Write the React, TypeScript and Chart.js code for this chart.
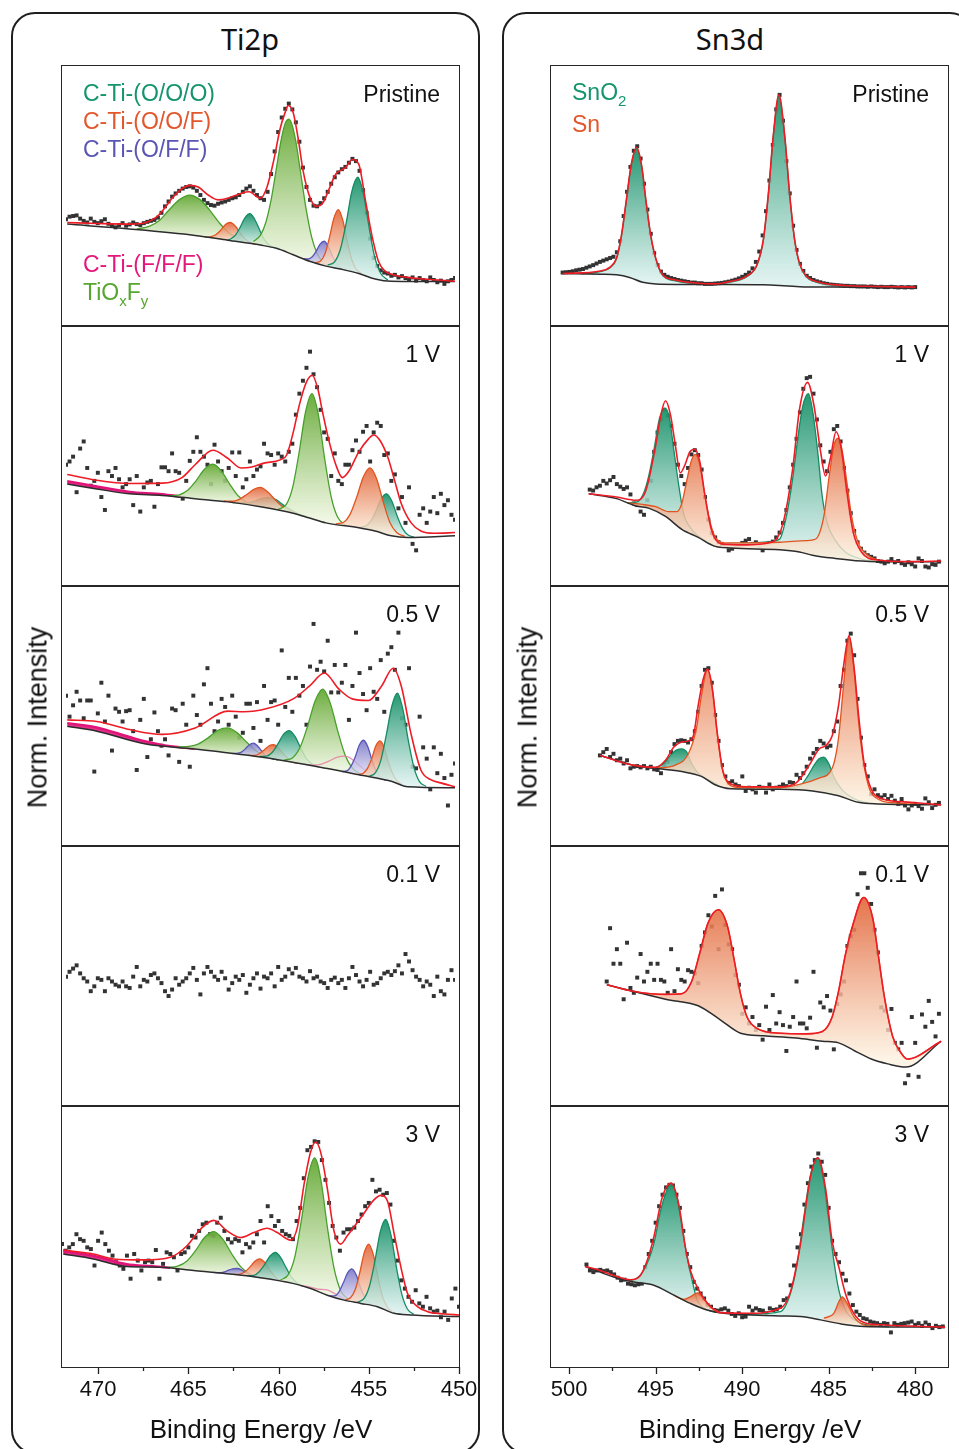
import React, { useEffect, useRef } from 'react';
import { Chart, registerables } from 'chart.js';
Chart.register(...registerables);

type P = [number, number];
type Kind = 'teal' | 'orange' | 'purple' | 'green' | 'magenta' | 'pink';
type Comp = { kind: Kind; pts: P[] };
type Sub = { start: number; scatter: number[]; env?: P[]; bg?: P[]; comps: Comp[] };

const STEP = 0.2;
const TI_MIN = 450, TI_MAX = 472;
const SN_MIN = 478.1, SN_MAX = 501.05;
const TI_TICKS = [450, 452.5, 455, 457.5, 460, 462.5, 465, 467.5, 470];
const TI_LABELS = [450, 455, 460, 465, 470];
const SN_TICKS = [480, 482.5, 485, 487.5, 490, 492.5, 495, 497.5, 500];
const SN_LABELS = [480, 485, 490, 495, 500];
const STATES = ['Pristine', '1 V', '0.5 V', '0.1 V', '3 V'];

// ---------------- Ti2p ----------------
const tiPristineScatter = [318,326,328,330,320,313,308,320,310,306,312,318,304,298,293,300,306,298,302,308,303,300,306,310,313,316,323,338,358,373,388,398,406,413,418,420,416,406,393,378,368,362,360,366,370,373,378,383,386,393,403,413,420,406,393,383,378,403,458,528,588,633,660,676,658,618,558,478,418,378,360,358,368,383,403,428,448,463,473,480,493,505,498,468,408,338,258,198,173,160,153,150,143,146,138,142,136,130,138,128,136,130,126,138,130,123,128,118,126,130,136];
const tiPristineEnv: P[] = [[471.93,308],[470.26,305],[468.41,303],[467.48,308],[466.93,323],[466.56,343],[466.0,383],[465.44,413],[464.98,423],[464.52,418],[463.96,393],[463.41,378],[462.85,383],[462.11,398],[461.65,403],[461.0,383],[460.63,418],[460.26,498],[459.89,598],[459.61,648],[459.43,670],[459.15,648],[458.87,568],[458.59,468],[458.22,388],[457.85,358],[457.48,368],[457.11,413],[456.74,458],[456.19,478],[455.81,503],[455.44,488],[455.07,378],[454.7,268],[454.33,188],[453.96,158],[453.59,148],[452.67,138],[451.74,133],[450.0,126]];
const tiPristineBg: P[] = [[471.93,303],[468.41,288],[464.7,268],[462.85,253],[461.0,238],[460.1,228],[459.15,208],[458.22,188],[457.3,173],[456.4,163],[455.44,150],[454.52,133],[453.6,126],[450.0,125]];
const tiPristineGreen1: P[] = [[468.0,288],[467.3,296],[466.7,315],[466.2,345],[465.6,378],[465.0,393],[464.4,378],[463.9,348],[463.3,305],[462.7,272],[462.0,250]];
const tiPristineOrange1: P[] = [[464.13,262],[463.8,264],[463.53,270],[463.25,284],[462.98,302],[462.7,308],[462.43,297],[462.15,275],[461.88,257],[461.6,247],[461.27,240]];
const tiPristineTeal1: P[] = [[462.9,253],[462.7,257],[462.43,268],[462.15,293],[461.88,322],[461.6,335],[461.33,318],[461.05,285],[460.78,255],[460.5,238],[460.17,229]];
const tiPristineGreen2: P[] = [[461.4,249],[461.0,269],[460.7,308],[460.4,378],[460.2,442],[460.0,510],[459.8,572],[459.6,615],[459.4,628],[459.2,608],[459.0,558],[458.8,488],[458.6,413],[458.4,343],[458.1,261],[457.8,212],[457.4,182],[457.0,170]];
const tiPristinePurple: P[] = [[458.57,196],[458.3,195],[458.07,202],[457.85,219],[457.63,241],[457.4,250],[457.17,234],[456.95,207],[456.73,183],[456.5,169],[456.23,161]];
const tiPristineOrange2: P[] = [[457.9,184],[457.6,189],[457.35,212],[457.1,262],[456.85,321],[456.6,348],[456.35,316],[456.1,251],[455.85,195],[455.6,164],[455.3,151]];
const tiPristineTeal2: P[] = [[457.2,176],[456.8,187],[456.48,226],[456.15,308],[455.83,405],[455.5,448],[455.18,397],[454.85,290],[454.53,198],[454.2,150],[453.8,130]];

const ti1VScatter = [363,373,388,278,413,435,353,298,313,338,263,223,343,328,353,318,293,303,318,238,328,218,293,308,313,233,303,355,355,343,398,343,338,258,313,375,403,448,403,388,363,303,425,373,343,313,353,401,328,401,293,318,373,328,348,358,428,398,393,363,398,388,373,403,428,518,583,623,663,713,643,603,533,463,443,328,398,313,303,363,363,408,438,403,465,483,373,463,493,483,393,398,313,333,228,263,183,293,118,98,208,228,183,218,263,213,273,238,253,208,193];
const ti1VEnv: P[] = [[471.93,333],[470.26,315],[468.41,305],[466.56,306],[465.44,323],[464.7,363],[463.69,408],[462.85,383],[462.11,353],[461.56,355],[460.81,368],[459.89,378],[459.52,393],[459.15,463],[458.78,553],[458.41,618],[458.07,640],[457.76,598],[457.48,523],[457.11,433],[456.74,363],[456.37,323],[456.0,343],[455.44,403],[454.89,443],[454.61,455],[454.24,438],[453.78,383],[453.41,313],[453.04,243],[452.48,183],[451.93,158],[451.19,151],[450.0,153]];
const ti1VBg: P[] = [[471.93,303],[470.26,288],[468.41,273],[466.56,268],[464.7,258],[462.85,248],[461.0,233],[459.15,213],[458.22,198],[457.3,183],[455.44,168],[454.52,158],[453.6,143],[452.67,138],[450.0,143]];
const ti1VMagenta: P[] = [[471.93,312],[470.26,296],[468.41,279],[466.56,272],[465.5,264]];
const ti1VGreen1: P[] = [[466.16,267],[465.59,270],[465.12,284],[464.64,314],[464.17,349],[463.69,365],[463.22,344],[462.74,303],[462.27,267],[461.79,247],[461.22,237]];
const ti1VOrange1: P[] = [[463.08,251],[462.6,250],[462.2,256],[461.8,270],[461.4,286],[461.0,293],[460.6,279],[460.2,256],[459.8,235],[459.4,222],[458.92,210]];
const ti1VTeal1: P[] = [[462.58,246],[462.1,245],[461.7,246],[461.3,251],[460.9,259],[460.5,262],[460.1,254],[459.7,238],[459.3,224],[458.9,212],[458.42,203]];
const ti1VGreen2: P[] = [[460.0,225],[459.54,240],[459.18,293],[458.82,400],[458.45,527],[458.09,583],[457.73,518],[457.37,381],[457.0,263],[456.64,201],[456.2,176]];
const ti1VOrange2: P[] = [[456.75,180],[456.3,185],[455.93,210],[455.55,264],[455.18,326],[454.8,353],[454.43,319],[454.05,246],[453.68,184],[453.3,153],[452.85,141]];
const ti1VTeal2: P[] = [[455.43,169],[455.07,173],[454.77,188],[454.47,220],[454.17,258],[453.87,273],[453.57,250],[453.27,204],[452.97,166],[452.67,146],[452.31,139]];

const ti05Scatter = [453,388,423,465,438,383,438,438,218,398,493,373,453,283,413,403,373,405,408,343,223,378,443,263,318,401,343,298,318,268,413,408,248,428,363,233,453,393,363,488,538,428,343,373,443,418,363,453,388,323,338,428,428,353,433,313,483,378,433,438,363,593,418,508,403,508,453,483,363,543,675,533,558,528,623,463,548,463,493,548,378,483,648,523,458,408,538,465,443,563,403,583,603,533,648,383,363,538,233,228,388,293,258,163,293,213,273,198,113,208,243];
const ti05Env: P[] = [[471.93,378],[470.26,373],[468.41,348],[466.56,333],[464.7,353],[462.85,405],[461.93,403],[460.63,413],[459.15,443],[458.22,483],[457.39,523],[456.56,473],[455.81,443],[454.89,438],[454.15,483],[453.5,538],[453.04,483],[452.48,333],[451.93,223],[451.37,193],[450.81,183],[450.0,171]];
const ti05Bg: P[] = [[471.93,358],[470.26,343],[467.48,303],[464.7,288],[461.0,263],[457.3,228],[455.44,208],[453.6,188],[452.67,171],[450.0,168]];
const ti05Magenta: P[] = [[471.93,368],[470.26,355],[468.41,325],[467.48,311],[466.5,300],[465.5,293],[464.7,289]];
const ti05Green1: P[] = [[465.7,294],[465.05,296],[464.5,304],[463.95,323],[463.4,346],[462.85,353],[462.3,337],[461.75,307],[461.2,280],[460.65,264],[460.0,253]];
const ti05Purple1: P[] = [[462.57,274],[462.3,275],[462.08,278],[461.85,289],[461.63,301],[461.4,306],[461.18,298],[460.95,283],[460.73,268],[460.5,261],[460.23,256]];
const ti05Orange1: P[] = [[461.7,268],[461.36,268],[461.08,273],[460.81,284],[460.53,297],[460.26,301],[459.98,291],[459.71,273],[459.43,258],[459.16,248],[458.83,243]];
const ti05Teal1: P[] = [[461.06,265],[460.67,266],[460.34,277],[460.02,303],[459.7,333],[459.37,345],[459.05,327],[458.72,290],[458.4,258],[458.07,241],[457.68,233]];
const ti05Green2: P[] = [[459.69,253],[459.18,261],[458.76,293],[458.33,360],[457.9,438],[457.48,473],[457.05,429],[456.63,343],[456.2,267],[455.78,227],[455.27,208]];
const ti05Pink: P[] = [[458.54,240],[458.0,238],[457.55,241],[457.1,251],[456.65,263],[456.2,266],[455.75,253],[455.3,232],[454.85,212],[454.4,200],[453.86,191]];
const ti05Purple2: P[] = [[456.41,218],[456.12,220],[455.88,235],[455.64,264],[455.41,300],[455.17,315],[454.93,295],[454.7,254],[454.46,220],[454.22,200],[453.93,191]];
const ti05Orange2: P[] = [[455.47,209],[455.19,213],[454.95,228],[454.71,258],[454.48,297],[454.24,313],[454.0,292],[453.77,248],[453.53,212],[453.29,190],[453.0,178]];
const ti05Teal2: P[] = [[454.89,203],[454.51,214],[454.2,252],[453.89,330],[453.57,421],[453.26,461],[452.95,411],[452.63,311],[452.32,230],[452.01,187],[451.63,172]];

const ti01Scatter = [388,403,413,423,398,383,373,343,358,383,378,343,383,373,363,358,373,358,353,388,418,358,378,373,393,398,383,368,343,328,348,383,363,373,383,398,415,378,333,398,418,403,388,378,403,383,348,368,388,378,393,338,363,383,398,351,388,383,398,358,418,378,388,411,398,415,388,383,373,405,383,388,373,368,353,378,385,368,378,353,383,418,393,373,358,378,403,363,368,383,398,403,393,405,423,398,458,435,408,388,378,358,373,363,328,388,343,333,378,408,378];

const ti3VScatter = [373,353,363,373,403,388,383,363,358,308,383,408,373,353,338,318,308,298,338,268,343,323,293,318,323,318,355,268,313,348,343,333,293,343,348,363,398,393,413,433,438,403,398,438,453,413,388,378,388,383,348,373,363,378,403,443,378,488,458,428,443,413,403,398,388,443,483,573,658,668,685,683,628,568,498,428,393,353,408,418,418,423,443,463,488,498,568,533,538,523,528,493,383,323,263,238,213,198,233,193,183,213,178,168,171,151,168,143,208,238,183];
const ti3VEnv: P[] = [[471.93,355],[470.26,343],[469.15,328],[467.48,325],[466.0,333],[465.07,368],[464.33,418],[463.59,445],[462.85,413],[462.11,393],[461.37,408],[460.63,421],[460.07,408],[459.33,385],[458.96,423],[458.59,553],[458.22,653],[457.94,683],[457.67,653],[457.3,543],[456.93,413],[456.56,373],[456.19,398],[455.44,453],[454.7,508],[454.33,521],[453.96,503],[453.59,403],[453.22,303],[452.85,223],[452.3,183],[451.74,168],[450.81,161],[450.0,158]];
const ti3VBg: P[] = [[471.93,343],[470.26,328],[468.41,305],[466.56,303],[464.7,293],[462.85,283],[461.0,271],[459.15,253],[458.22,238],[457.3,218],[456.37,203],[455.44,193],[454.52,183],[453.6,163],[452.67,158],[450.0,153]];
const ti3VMagenta: P[] = [[471.93,352],[470.26,338],[468.41,312],[467.0,306],[466.0,301]];
const ti3VGreen1: P[] = [[466.2,302],[465.59,306],[465.09,321],[464.59,354],[464.09,394],[463.59,411],[463.09,388],[462.59,343],[462.09,304],[461.59,283],[461.0,272]];
const ti3VPurple1: P[] = [[463.6,287],[463.3,286],[463.05,288],[462.8,293],[462.55,298],[462.3,299],[462.05,295],[461.8,286],[461.55,279],[461.3,274],[461.0,271]];
const ti3VOrange1: P[] = [[462.47,281],[462.14,282],[461.86,289],[461.59,303],[461.31,321],[461.04,328],[460.76,317],[460.49,295],[460.21,275],[459.94,264],[459.61,258]];
const ti3VTeal1: P[] = [[461.73,277],[461.37,278],[461.07,289],[460.77,311],[460.47,337],[460.17,348],[459.87,331],[459.57,300],[459.27,272],[458.97,255],[458.61,245]];
const ti3VGreen2: P[] = [[459.89,264],[459.45,281],[459.09,336],[458.73,447],[458.36,578],[458.0,635],[457.64,563],[457.28,419],[456.91,296],[456.55,231],[456.1,204]];
const ti3VPink: P[] = [[458.8,247],[458.3,243],[457.8,236],[457.3,234],[456.8,220],[456.3,205]];
const ti3VPurple2: P[] = [[457.18,216],[456.89,216],[456.65,228],[456.42,254],[456.18,285],[455.94,298],[455.7,280],[455.47,243],[455.23,212],[454.99,194],[454.7,186]];
const ti3VOrange2: P[] = [[456.3,204],[456.0,211],[455.75,235],[455.5,286],[455.25,347],[455.0,373],[454.75,341],[454.5,275],[454.25,216],[454.0,184],[453.7,167]];
const ti3VTeal2: P[] = [[455.62,197],[455.26,208],[454.96,246],[454.66,322],[454.36,411],[454.06,448],[453.76,398],[453.46,300],[453.16,219],[452.86,176],[452.5,160]];

// ---------------- Sn3d ----------------
const snPristineScatter = [153,154,155,157,160,162,164,168,172,176,181,186,190,194,198,202,216,250,328,403,480,530,544,506,428,348,273,213,176,156,146,140,136,133,130,128,126,124,122,122,120,120,118,118,118,119,120,121,123,125,128,131,135,140,146,153,166,186,218,268,343,438,548,658,703,623,498,398,298,223,180,158,143,136,130,126,123,120,118,116,115,114,113,112,112,111,111,110,110,110,109,110,109,108,109,108,108,109,108,107,108,107,108,107,108];
const snPristineEnv: P[] = [[500.6,150],[498.38,158],[497.8,170],[497.42,198],[497.13,268],[496.84,378],[496.55,488],[496.23,540],[495.92,478],[495.69,378],[495.4,268],[495.11,198],[494.72,148],[493.95,130],[492.6,120],[491.64,118],[490.67,126],[489.71,143],[489.13,178],[488.75,258],[488.46,398],[488.17,578],[487.84,703],[487.5,578],[487.21,398],[486.92,258],[486.63,183],[486.24,143],[485.47,123],[483.93,113],[482.0,110],[479.79,108]];
const snPristineBg: P[] = [[500.6,150],[498.38,148],[497.42,146],[496.65,138],[495.88,123],[495.11,118],[491.64,116],[488.75,115],[487.79,113],[486.82,110],[485.86,108],[479.79,108]];
const snPristineSnO2a: P[] = [[499.5,149],[498.38,156],[497.8,168],[497.42,196],[497.13,266],[496.84,376],[496.55,486],[496.23,538],[495.92,476],[495.69,376],[495.4,266],[495.11,196],[494.72,146],[493.95,127],[492.6,118],[491.64,116]];
const snPristineSnO2b: P[] = [[492.6,117],[491.64,117],[490.67,124],[489.71,141],[489.13,176],[488.75,256],[488.46,396],[488.17,576],[487.84,701],[487.5,576],[487.21,396],[486.92,256],[486.63,181],[486.24,141],[485.47,121],[483.93,112],[482.0,109],[480.5,108]];

const sn1VScatter = [286,283,293,298,313,305,315,325,303,295,288,293,271,243,238,218,208,253,313,403,463,503,533,515,483,428,363,328,303,353,395,408,393,348,263,193,151,138,123,118,113,98,103,111,115,121,128,133,118,123,111,98,118,121,125,138,153,183,223,293,363,443,525,598,631,635,583,503,423,373,343,403,473,483,435,353,283,213,158,123,103,91,83,78,73,65,63,58,63,71,61,65,58,53,61,55,48,73,65,48,45,55,53,63];
const sn1VEnv: P[] = [[499.06,273],[497.42,263],[496.26,253],[495.69,283],[495.11,423],[494.82,513],[494.53,561],[494.24,518],[493.95,423],[493.66,338],[493.38,363],[493.09,403],[492.8,411],[492.51,373],[492.22,273],[491.83,163],[491.25,118],[489.71,115],[488.17,125],[487.59,183],[487.02,353],[486.63,533],[486.15,618],[485.76,543],[485.38,403],[485.09,328],[484.8,383],[484.47,465],[484.16,413],[483.84,283],[483.45,153],[482.97,93],[482.0,68],[480.08,63],[478.27,65]];
const sn1VBg: P[] = [[499.06,273],[497.42,258],[496.26,235],[495.49,228],[494.53,203],[493.57,163],[492.6,138],[491.64,111],[490.68,105],[487.79,100],[486.63,93],[485.86,83],[484.51,73],[482.97,65],[482.0,63],[478.27,63]];
const sn1VSnO2a: P[] = [[496.78,245],[496.2,248],[495.8,278],[495.5,333],[495.2,413],[494.9,503],[494.57,538],[494.3,508],[494.05,413],[493.76,303],[493.47,213],[492.99,163],[492.22,128],[491.64,111]];
const sn1VSnO2b: P[] = [[491.06,119],[489.71,120],[488.5,124],[487.79,133],[487.4,203],[487.02,323],[486.73,443],[486.44,543],[486.1,583],[485.86,533],[485.57,413],[485.28,263],[484.99,183],[484.5,128],[483.93,93],[482.97,71],[482.0,64]];
const sn1VSn: P[] = [[496.78,245],[495.88,240],[495.11,233],[494.34,218],[493.86,218],[493.57,243],[493.28,313],[492.99,378],[492.76,395],[492.51,363],[492.22,273],[491.93,193],[491.64,143],[491.06,121],[489.71,121],[487.79,123],[486.24,128],[485.67,133],[485.19,203],[484.86,333],[484.59,423],[484.36,445],[484.13,413],[483.84,313],[483.55,203],[483.17,123],[482.59,83],[482.0,68]];

const sn05Scatter = [268,278,288,263,273,253,258,243,253,228,233,235,231,235,228,233,225,223,213,238,248,278,303,313,315,313,308,318,343,403,483,533,538,493,393,313,238,203,183,188,178,173,203,158,168,163,153,171,168,153,178,163,168,171,178,173,185,183,208,198,213,233,258,275,288,313,305,293,298,343,373,483,533,623,645,578,443,323,238,203,148,163,145,138,145,133,143,128,118,133,113,101,113,118,111,103,135,123,105,115,121];
const sn05Env: P[] = [[498.38,268],[496.46,238],[495.11,231],[494.53,253],[494.05,293],[493.66,308],[493.18,313],[492.89,328],[492.6,423],[492.31,503],[492.06,535],[491.79,483],[491.49,343],[491.16,223],[490.78,183],[489.72,171],[487.79,171],[486.82,183],[486.05,238],[485.47,288],[485.09,298],[484.7,328],[484.32,423],[484.03,543],[483.7,638],[483.39,533],[483.12,383],[482.81,243],[482.39,163],[481.81,135],[480.08,123],[478.27,115]];
const sn05Bg: P[] = [[498.38,268],[496.46,238],[495.11,228],[493.57,218],[492.41,203],[491.64,178],[490.68,165],[487.79,163],[485.86,158],[484.32,143],[483.16,123],[482.0,118],[478.27,115]];
const sn05SnO2a: P[] = [[495.11,231],[494.63,243],[494.24,268],[493.86,285],[493.57,288],[493.28,278],[492.99,243],[492.6,213],[492.03,193],[491.45,177]];
const sn05SnO2b: P[] = [[487.5,168],[486.63,173],[486.15,203],[485.76,238],[485.47,258],[485.19,263],[484.9,243],[484.61,203],[484.13,163],[483.36,133],[482.59,121]];
const sn05Sn: P[] = [[495.11,228],[493.95,238],[493.18,273],[492.7,353],[492.41,453],[492.06,533],[491.74,463],[491.45,323],[491.16,223],[490.78,178],[490.1,168],[487.79,168],[486.63,178],[485.47,198],[484.7,228],[484.32,323],[484.03,483],[483.7,638],[483.39,523],[483.16,383],[482.87,253],[482.49,163],[482.0,133],[481.04,121],[479.5,117]];

const sn01Scatter = [373,538,428,473,428,318,493,353,338,385,458,373,403,428,378,428,378,373,338,473,343,411,378,373,408,403,398,368,483,525,578,543,638,473,658,548,488,473,393,363,273,293,243,263,223,238,193,295,223,331,243,278,238,158,233,263,373,243,243,228,261,403,168,308,293,328,283,163,303,333,373,483,513,533,643,708,708,663,613,533,463,293,283,223,288,183,163,183,58,83,263,183,78,271,233,313,248,203,273];
const sn01Env: P[] = [[497.99,363],[496.46,343],[494.53,333],[493.57,335],[492.99,373],[492.5,463],[492.03,553],[491.41,595],[490.87,543],[490.49,443],[490.1,333],[489.72,263],[489.14,228],[487.79,213],[486.24,211],[485.28,218],[484.7,263],[484.32,343],[483.93,453],[483.45,553],[482.84,633],[482.3,568],[482.0,463],[481.61,323],[481.13,203],[480.65,153],[480.27,133],[478.27,188]];
const sn01Bg: P[] = [[497.99,363],[496.46,343],[494.53,318],[492.6,298],[491.26,253],[490.1,213],[488.75,205],[486.82,198],[485.28,188],[484.32,183],[483.36,158],[482.39,133],[481.42,118],[480.36,108],[478.27,188]];
const sn01Sn: P[] = sn01Env;

const sn3VScatter = [311,293,288,293,295,291,293,288,281,271,263,265,253,251,248,251,253,303,343,383,438,488,523,545,553,551,523,483,413,343,303,258,238,223,208,188,183,173,171,175,178,171,161,155,163,151,153,183,171,178,173,171,163,178,173,175,183,203,208,248,308,363,403,493,558,608,628,648,623,583,483,383,343,318,283,263,223,188,168,158,148,145,138,135,133,128,133,131,105,133,128,131,133,135,138,128,133,125,135,128,118,125,121,123];
const sn3VEnv: P[] = [[499.06,305],[498.2,293],[497.42,278],[496.46,265],[495.88,278],[495.49,323],[495.11,393],[494.63,513],[494.11,558],[493.66,493],[493.28,363],[492.99,293],[492.6,243],[492.22,208],[491.83,183],[491.26,165],[489.71,163],[487.79,178],[487.21,228],[486.63,373],[486.05,578],[485.62,635],[485.18,543],[484.8,383],[484.41,303],[484.03,223],[483.55,163],[482.97,135],[482.0,128],[478.27,121]];
const sn3VBg: P[] = [[499.06,305],[497.42,273],[496.26,258],[495.11,248],[493.95,218],[492.99,193],[492.03,173],[491.06,163],[487.79,155],[486.63,153],[485.47,143],[484.32,131],[482.97,123],[478.27,121]];
const sn3VSnO2a: P[] = [[497.42,274],[496.46,263],[495.7,293],[495.11,373],[494.72,473],[494.38,533],[494.11,555],[493.76,513],[493.47,423],[493.18,333],[492.89,263],[492.6,203],[492.03,174],[491.26,164]];
const sn3VSna: P[] = [[493.95,218],[493.38,205],[492.99,213],[492.57,225],[492.22,208],[491.83,183],[491.26,165]];
const sn3VSnO2b: P[] = [[489.71,160],[487.79,168],[487.21,223],[486.82,313],[486.44,453],[486.05,583],[485.62,635],[485.28,563],[484.99,443],[484.7,323],[484.41,233],[484.03,173],[483.36,138],[482.39,125],[481.5,122]];
const sn3VSnb: P[] = [[485.28,148],[484.7,163],[484.41,198],[484.22,213],[483.93,193],[483.55,153],[482.97,128],[482.2,123]];

const TI_SUBS: Sub[] = [
  { start: 472, scatter: tiPristineScatter, env: tiPristineEnv, bg: tiPristineBg, comps: [
    { kind: 'green', pts: tiPristineGreen1 }, { kind: 'orange', pts: tiPristineOrange1 }, { kind: 'teal', pts: tiPristineTeal1 },
    { kind: 'green', pts: tiPristineGreen2 }, { kind: 'purple', pts: tiPristinePurple }, { kind: 'orange', pts: tiPristineOrange2 }, { kind: 'teal', pts: tiPristineTeal2 } ] },
  { start: 472, scatter: ti1VScatter, env: ti1VEnv, bg: ti1VBg, comps: [
    { kind: 'magenta', pts: ti1VMagenta }, { kind: 'green', pts: ti1VGreen1 }, { kind: 'teal', pts: ti1VTeal1 }, { kind: 'orange', pts: ti1VOrange1 },
    { kind: 'green', pts: ti1VGreen2 }, { kind: 'teal', pts: ti1VTeal2 }, { kind: 'orange', pts: ti1VOrange2 } ] },
  { start: 472, scatter: ti05Scatter, env: ti05Env, bg: ti05Bg, comps: [
    { kind: 'magenta', pts: ti05Magenta }, { kind: 'green', pts: ti05Green1 }, { kind: 'purple', pts: ti05Purple1 }, { kind: 'orange', pts: ti05Orange1 },
    { kind: 'teal', pts: ti05Teal1 }, { kind: 'green', pts: ti05Green2 }, { kind: 'pink', pts: ti05Pink }, { kind: 'purple', pts: ti05Purple2 },
    { kind: 'orange', pts: ti05Orange2 }, { kind: 'teal', pts: ti05Teal2 } ] },
  { start: 472, scatter: ti01Scatter, comps: [] },
  { start: 472, scatter: ti3VScatter, env: ti3VEnv, bg: ti3VBg, comps: [
    { kind: 'magenta', pts: ti3VMagenta }, { kind: 'green', pts: ti3VGreen1 }, { kind: 'purple', pts: ti3VPurple1 }, { kind: 'orange', pts: ti3VOrange1 },
    { kind: 'teal', pts: ti3VTeal1 }, { kind: 'green', pts: ti3VGreen2 }, { kind: 'pink', pts: ti3VPink }, { kind: 'purple', pts: ti3VPurple2 },
    { kind: 'orange', pts: ti3VOrange2 }, { kind: 'teal', pts: ti3VTeal2 } ] },
];

const SN_SUBS: Sub[] = [
  { start: 500.6, scatter: snPristineScatter, env: snPristineEnv, bg: snPristineBg, comps: [
    { kind: 'teal', pts: snPristineSnO2a }, { kind: 'teal', pts: snPristineSnO2b } ] },
  { start: 499.0, scatter: sn1VScatter, env: sn1VEnv, bg: sn1VBg, comps: [
    { kind: 'teal', pts: sn1VSnO2a }, { kind: 'teal', pts: sn1VSnO2b }, { kind: 'orange', pts: sn1VSn } ] },
  { start: 498.4, scatter: sn05Scatter, env: sn05Env, bg: sn05Bg, comps: [
    { kind: 'teal', pts: sn05SnO2a }, { kind: 'teal', pts: sn05SnO2b }, { kind: 'orange', pts: sn05Sn } ] },
  { start: 498.0, scatter: sn01Scatter, env: sn01Env, bg: sn01Bg, comps: [ { kind: 'orange', pts: sn01Sn } ] },
  { start: 499.0, scatter: sn3VScatter, env: sn3VEnv, bg: sn3VBg, comps: [
    { kind: 'teal', pts: sn3VSnO2a }, { kind: 'teal', pts: sn3VSnO2b }, { kind: 'orange', pts: sn3VSna }, { kind: 'orange', pts: sn3VSnb } ] },
];

// ---------------- styling ----------------
const LINE: Record<Kind, string> = {
  teal: '#158c63', orange: '#e2541f', purple: '#5a55b8', green: '#48a02c', magenta: '#e0157a', pink: 'rgba(232,120,160,0.8)',
};
const FILL: Record<Kind, [string, string]> = {
  teal: ['rgba(26,146,106,0.95)', 'rgba(222,242,240,0.8)'],
  orange: ['rgba(226,100,56,0.9)', 'rgba(253,241,222,0.78)'],
  purple: ['rgba(112,108,196,0.85)', 'rgba(232,230,246,0.7)'],
  green: ['rgba(100,168,52,0.95)', 'rgba(242,248,228,0.8)'],
  magenta: ['rgba(226,24,124,0.9)', 'rgba(226,24,124,0.9)'],
  pink: ['rgba(0,0,0,0)', 'rgba(0,0,0,0)'],
};
const SANS = '"Liberation Sans", Arial, sans-serif';
const Y_MAX = 780;

const PLOT_TOPS = [66, 326, 586, 846, 1106];
const PLOT_H = [260, 260, 260, 260, 261];
const PLOT_W = 397;
const AXIS_H = 82;

const tickPlugin = (ticks: number[], majors: number[]) => ({
  id: 'xpsTicks',
  afterDraw(chart: any) {
    const s = chart.scales.x;
    const b = chart.chartArea.bottom;
    const c = chart.ctx;
    c.save();
    c.strokeStyle = '#222';
    c.lineWidth = 1.3;
    ticks.forEach((v) => {
      const x = Math.round(s.getPixelForValue(v)) + 0.5;
      const len = majors.includes(v) ? 7 : 4;
      c.beginPath();
      c.moveTo(x, b);
      c.lineTo(x, b + len);
      c.stroke();
    });
    c.restore();
  },
});

function SubChart(props: { sub: Sub; xmin: number; xmax: number; ticks: number[]; majors: number[]; left: number; top: number; h: number; axis: boolean }) {
  const { sub, xmin, xmax, ticks, majors, left, top, h, axis } = props;
  const ref = useRef<HTMLCanvasElement>(null);
  const padL = axis ? 40 : 0;
  const padR = axis ? 30 : 0;
  const cw = PLOT_W + padL + padR;
  const ch = h + (axis ? AXIS_H : 0);
  useEffect(() => {
    if (!ref.current) return;
    const xy = (pts: P[]) => pts.map(([x, y]) => ({ x, y }));
    const datasets: any[] = [];
    if (sub.bg) {
      datasets.push({ data: xy(sub.bg), borderColor: '#2d2d2d', borderWidth: 1.5, pointRadius: 0, fill: false, cubicInterpolationMode: 'monotone', order: 3 });
    }
    sub.comps.forEach((cp, i) => {
      const ys = cp.pts.map((p) => p[1]);
      const hi = Math.max(...ys);
      const lo = Math.min(...ys);
      datasets.push({
        data: xy(cp.pts),
        borderColor: LINE[cp.kind],
        borderWidth: cp.kind === 'magenta' ? 2.4 : 1.3,
        pointRadius: 0,
        cubicInterpolationMode: 'monotone',
        fill: cp.kind === 'pink' ? false : { target: 0 },
        backgroundColor: (ctx: any) => {
          const chart = ctx.chart;
          if (!chart.chartArea) return 'transparent';
          const ys2 = chart.scales.y;
          const t = ys2.getPixelForValue(hi);
          const b = Math.max(ys2.getPixelForValue(lo), t + 1);
          const g = chart.ctx.createLinearGradient(0, t, 0, b);
          g.addColorStop(0, FILL[cp.kind][0]);
          g.addColorStop(1, FILL[cp.kind][1]);
          return g;
        },
        order: 20 - i,
      });
    });
    if (sub.env) {
      datasets.push({ data: xy(sub.env), borderColor: '#ee1c25', borderWidth: 1.6, pointRadius: 0, fill: false, cubicInterpolationMode: 'monotone', order: 1 });
    }
    datasets.push({
      data: sub.scatter.map((y, i) => ({ x: +(sub.start - STEP * i).toFixed(2), y })),
      showLine: false,
      pointStyle: 'rect',
      pointRadius: 2.8,
      pointBackgroundColor: '#333333',
      pointBorderWidth: 0,
      borderColor: 'rgba(0,0,0,0)',
      backgroundColor: 'rgba(0,0,0,0)',
      fill: false,
      order: 30,
    });
    const xScale: any = {
      type: 'linear', reverse: true, min: xmin, max: xmax, display: axis,
      grid: { display: false, drawTicks: false, tickLength: 0 },
      border: { display: false },
      ticks: {
        autoSkip: false, maxRotation: 0, minRotation: 0, padding: 10, color: '#111',
        font: { family: SANS, size: 22 },
        callback: (v: any) => (majors.includes(Number(v)) ? String(v) : ''),
      },
      afterBuildTicks: (s: any) => { s.ticks = ticks.map((v) => ({ value: v })); },
    };
    if (axis) xScale.afterFit = (s: any) => { s.height = AXIS_H; };
    const chart = new Chart(ref.current, {
      type: 'line',
      data: { datasets },
      options: {
        animation: false,
        responsive: false,
        devicePixelRatio: 1,
        events: [],
        layout: { padding: { left: padL, right: padR, top: 0, bottom: 0 } },
        plugins: { legend: { display: false }, tooltip: { enabled: false } },
        scales: {
          x: xScale,
          y: { type: 'linear', min: 0, max: Y_MAX, display: false },
        },
      } as any,
      plugins: axis ? [tickPlugin(ticks, majors) as any] : [],
    });
    return () => chart.destroy();
  }, []);
  return (
    <canvas ref={ref} width={cw} height={ch}
      style={{ position: 'absolute', left: left - padL, top, width: cw, height: ch }} />
  );
}

function Txt(props: { x: number; y: number; size: number; color?: string; align?: 'left' | 'right' | 'center'; family?: string; children: any }) {
  const { x, y, size, color = '#111', align = 'left', family = SANS, children } = props;
  const w = 400;
  const left = align === 'left' ? x : align === 'right' ? x - w : x - w / 2;
  return (
    <div style={{ position: 'absolute', left, top: y - size / 2, width: w, textAlign: align, fontSize: size, lineHeight: `${size}px`, color, fontFamily: family, whiteSpace: 'nowrap' }}>
      {children}
    </div>
  );
}

function VTxt(props: { x: number; y: number; size: number; children: any }) {
  const { x, y, size, children } = props;
  return (
    <div style={{ position: 'absolute', left: x - 150, top: y - size / 2, width: 300, textAlign: 'center', fontSize: size, lineHeight: `${size}px`, fontFamily: SANS, color: '#111', transform: 'rotate(-90deg)', whiteSpace: 'nowrap' }}>
      {children}
    </div>
  );
}

function Panel(props: { subs: Sub[]; plotLeft: number; xmin: number; xmax: number; ticks: number[]; majors: number[] }) {
  const { subs, plotLeft, xmin, xmax, ticks, majors } = props;
  return (
    <>
      {subs.map((s, i) => (
        <SubChart key={i} sub={s} xmin={xmin} xmax={xmax} ticks={ticks} majors={majors}
          left={plotLeft} top={PLOT_TOPS[i]} h={PLOT_H[i]} axis={i === subs.length - 1} />
      ))}
      <div style={{ position: 'absolute', left: plotLeft - 1, top: PLOT_TOPS[0] - 1, width: PLOT_W + 2, height: 1367 - PLOT_TOPS[0] + 2, border: '1.5px solid #262626', boxSizing: 'border-box' }} />
      {PLOT_TOPS.slice(1).map((t, i) => (
        <div key={i} style={{ position: 'absolute', left: plotLeft - 1, top: t - 1, width: PLOT_W + 2, height: 2, background: '#262626' }} />
      ))}
    </>
  );
}

export default function App() {
  const sub = (t: string) => <sub style={{ fontSize: 15, verticalAlign: 'baseline', position: 'relative', top: 6 }}>{t}</sub>;
  return (
    <div style={{ position: 'absolute', left: 0, top: 0, width: 959, height: 1449, overflow: 'hidden', background: '#fff' }}>
      <div style={{ position: 'absolute', left: 11, top: 12, width: 469, height: 1442, border: '2px solid #1e1e1e', borderRadius: 24, boxSizing: 'border-box' }} />
      <div style={{ position: 'absolute', left: 502, top: 12, width: 472, height: 1442, border: '2px solid #1e1e1e', borderRadius: 24, boxSizing: 'border-box' }} />

      <Panel subs={TI_SUBS} plotLeft={62} xmin={TI_MIN} xmax={TI_MAX} ticks={TI_TICKS} majors={TI_LABELS} />
      <Panel subs={SN_SUBS} plotLeft={551} xmin={SN_MIN} xmax={SN_MAX} ticks={SN_TICKS} majors={SN_LABELS} />

      <Txt x={250} y={38} size={29} align="center" family='"Noto Sans", sans-serif'>Ti2p</Txt>
      <Txt x={730} y={38} size={29} align="center" family='"Noto Sans", sans-serif'>Sn3d</Txt>

      {STATES.map((s, i) => (
        <Txt key={'l' + i} x={440} y={PLOT_TOPS[i] + 28} size={23} align="right">{s}</Txt>
      ))}
      {STATES.map((s, i) => (
        <Txt key={'r' + i} x={929} y={PLOT_TOPS[i] + 28} size={23} align="right">{s}</Txt>
      ))}

      <Txt x={83} y={93} size={23} color="#14956d">C-Ti-(O/O/O)</Txt>
      <Txt x={83} y={121} size={23} color="#e2572b">C-Ti-(O/O/F)</Txt>
      <Txt x={83} y={149} size={23} color="#5b56b3">C-Ti-(O/F/F)</Txt>
      <Txt x={83} y={264} size={23} color="#e5177b">C-Ti-(F/F/F)</Txt>
      <Txt x={83} y={292} size={23} color="#57a630">TiO{sub('x')}F{sub('y')}</Txt>

      <Txt x={572} y={92} size={23} color="#14956d">SnO{sub('2')}</Txt>
      <Txt x={572} y={124} size={23} color="#e2572b">Sn</Txt>

      <VTxt x={38} y={717} size={27}>Norm. Intensity</VTxt>
      <VTxt x={528} y={717} size={27}>Norm. Intensity</VTxt>

      <Txt x={261} y={1429} size={26} align="center">Binding Energy /eV</Txt>
      <Txt x={750} y={1429} size={26} align="center">Binding Energy /eV</Txt>
    </div>
  );
}
